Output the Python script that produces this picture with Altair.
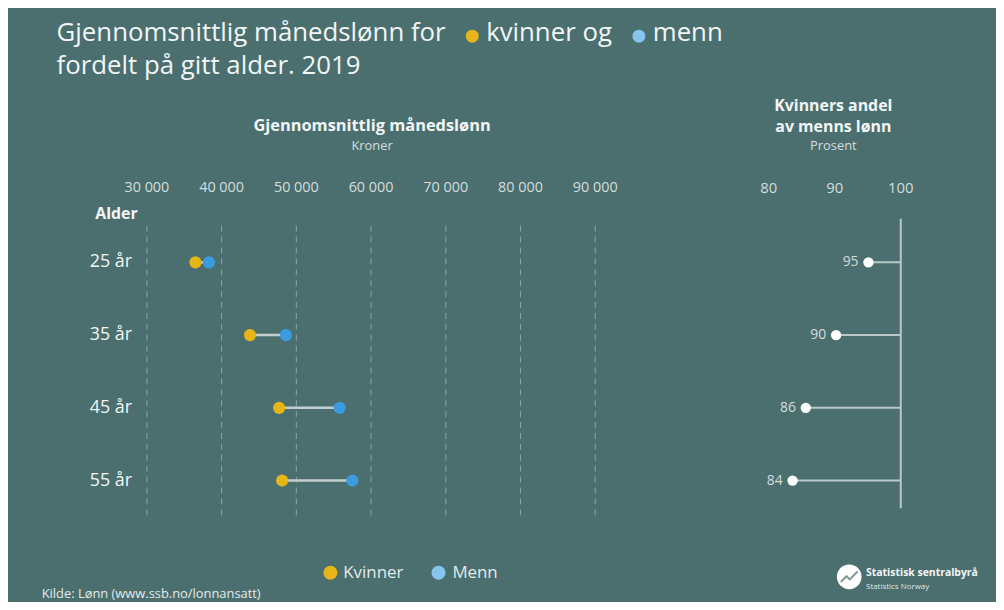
import altair as alt
import pandas as pd

# ---- data ----
alder = ["25 år", "35 år", "45 år", "55 år"]
kvinner = [36500, 43800, 47700, 48100]
menn = [38300, 48600, 55800, 57500]
andel = [95.1, 90.2, 85.6, 83.6]

lonn_ticks = [30000, 40000, 50000, 60000, 70000, 80000, 90000]
lonn_tick_labels = ["30 000", "40 000", "50 000", "60 000", "70 000", "80 000", "90 000"]
andel_ticks = [80, 90, 100]
andel_tick_labels = ["80", "90", "100"]

BG = "#4b6f6f"
YELLOW = "#e6b619"
BLUE = "#3a9be0"
LIGHTBLUE = "#86c5ee"
TXT = "#f2f6f6"
SUB = "#d3dede"
FONT = "Open Sans"

# ---- scales ----
x_left = alt.Scale(domain=[30000, 90000], range=[140, 592])
x_right = alt.Scale(domain=[80, 100], range=[767, 900])
y_sc = alt.Scale(type="point", domain=alder, range=[254, 474], padding=0)

wide = pd.DataFrame({"alder": alder, "kvinner": kvinner, "menn": menn, "andel": andel})
long = pd.DataFrame({
    "alder": alder + alder,
    "kjonn": ["Kvinner"] * 4 + ["Menn"] * 4,
    "lonn": kvinner + menn,
})
lt = pd.DataFrame({"v": lonn_ticks, "lab": lonn_tick_labels})
rt = pd.DataFrame({"v": andel_ticks, "lab": andel_tick_labels})

Y = alt.Y("alder:N", scale=y_sc, axis=None)

grid = alt.Chart(lt).mark_rule(color="#8aa6a6", strokeDash=[6, 5], strokeWidth=1).encode(
    x=alt.X("v:Q", scale=x_left, axis=None), y=alt.value(217), y2=alt.value(510))
tick_lab_l = alt.Chart(lt).mark_text(font=FONT, fontSize=14.5, color=SUB).encode(
    x=alt.X("v:Q", scale=x_left, axis=None), y=alt.value(179), text="lab:N")
dumb = alt.Chart(wide).mark_rule(color="#c3cfcf", strokeWidth=2.5).encode(
    x=alt.X("kvinner:Q", scale=x_left, axis=None), x2="menn:Q", y=Y)
pts = alt.Chart(long).mark_circle(size=150, opacity=1).encode(
    x=alt.X("lonn:Q", scale=x_left, axis=None), y=Y,
    color=alt.Color("kjonn:N", scale=alt.Scale(domain=["Kvinner", "Menn"], range=[YELLOW, BLUE]), legend=None))
left = alt.layer(grid, tick_lab_l, dumb, pts)

base_r = alt.Chart(rt).mark_rule(color="#b9c7c7", strokeWidth=2).encode(
    x=alt.X("v:Q", scale=x_right, axis=None), y=alt.value(210), y2=alt.value(502)).transform_filter("datum.v == 100")
tick_lab_r = alt.Chart(rt).mark_text(font=FONT, fontSize=15, color=SUB).encode(
    x=alt.X("v:Q", scale=x_right, axis=None), y=alt.value(179), text="lab:N")
r_lines = alt.Chart(wide).mark_rule(color="#b9c7c7", strokeWidth=2).encode(
    x=alt.X("andel:Q", scale=x_right, axis=None), x2=alt.X2(datum=100), y=Y)
r_pts = alt.Chart(wide).mark_circle(size=110, color="white", opacity=1).encode(
    x=alt.X("andel:Q", scale=x_right, axis=None), y=Y)
r_lab = alt.Chart(wide).mark_text(font=FONT, fontSize=14, color=SUB, align="right", dx=-10).encode(
    x=alt.X("andel:Q", scale=x_right, axis=None), y=Y, text=alt.Text("andel:Q", format=".0f"))
right = alt.layer(base_r, tick_lab_r, r_lines, r_pts, r_lab)

y_lab = alt.Chart(wide).mark_text(font=FONT, fontSize=18, color=TXT, align="right").encode(
    x=alt.value(125), y=Y, text="alder:N")


def txt(s, x, y, size, bold=False, align="left", color=TXT):
    return alt.Chart(pd.DataFrame({"t": [s]})).mark_text(
        font=FONT, fontSize=size, fontWeight="bold" if bold else "normal",
        align=align, baseline="middle", color=color).encode(
        x=alt.value(x), y=alt.value(y), text="t:N")


def dot(x, y, color, size):
    return alt.Chart(pd.DataFrame({"t": [0]})).mark_circle(size=size, color=color, opacity=1).encode(
        x=alt.value(x), y=alt.value(y))


deco = [
    txt("Gjennomsnittlig månedslønn for", 49, 23, 26),
    dot(468, 26, YELLOW, 170),
    txt("kvinner og", 482, 23, 26),
    dot(636, 26, LIGHTBLUE, 170),
    txt("menn", 650, 23, 26),
    txt("fordelt på gitt alder. 2019", 49, 56, 26),
    txt("Gjennomsnittlig månedslønn", 367, 117, 16.5, bold=True, align="center"),
    txt("Kroner", 367, 137, 13, align="center", color=SUB),
    txt("Kvinners andel", 832, 96, 16, bold=True, align="center"),
    txt("av menns lønn", 832, 118, 16, bold=True, align="center"),
    txt("Prosent", 832, 137, 13, align="center", color=SUB),
    txt("Alder", 88, 205, 16, bold=True),
    dot(325, 567, YELLOW, 200),
    txt("Kvinner", 338, 567, 17, color="#e3eaea"),
    dot(434, 567, LIGHTBLUE, 200),
    txt("Menn", 448, 567, 17, color="#e3eaea"),
    txt("Kilde: Lønn (www.ssb.no/lonnansatt)", 34, 588, 13, color="#e3eaea"),
    dot(848, 571, "white", 620),
    alt.Chart(pd.DataFrame({"t": [0]})).mark_point(
        shape="M -0.8 0.5 L -0.25 -0.05 L 0.05 0.25 L 0.8 -0.5", filled=False,
        stroke=BG, strokeWidth=2, size=450).encode(x=alt.value(848), y=alt.value(571)),
    txt("Statistisk sentralbyrå", 865, 567, 10.5, bold=True),
    txt("Statistics Norway", 865, 581, 8, color="#dfe7e7"),
]

chart = alt.layer(left, right, y_lab, *deco).resolve_scale(x="independent").properties(
    width=996, height=594, autosize=alt.AutoSizeParams(type="none"),
    padding=0, background=BG,
).configure_view(stroke=None)

chart.save("out.html", embed_options={"renderer": "svg", "actions": False})
